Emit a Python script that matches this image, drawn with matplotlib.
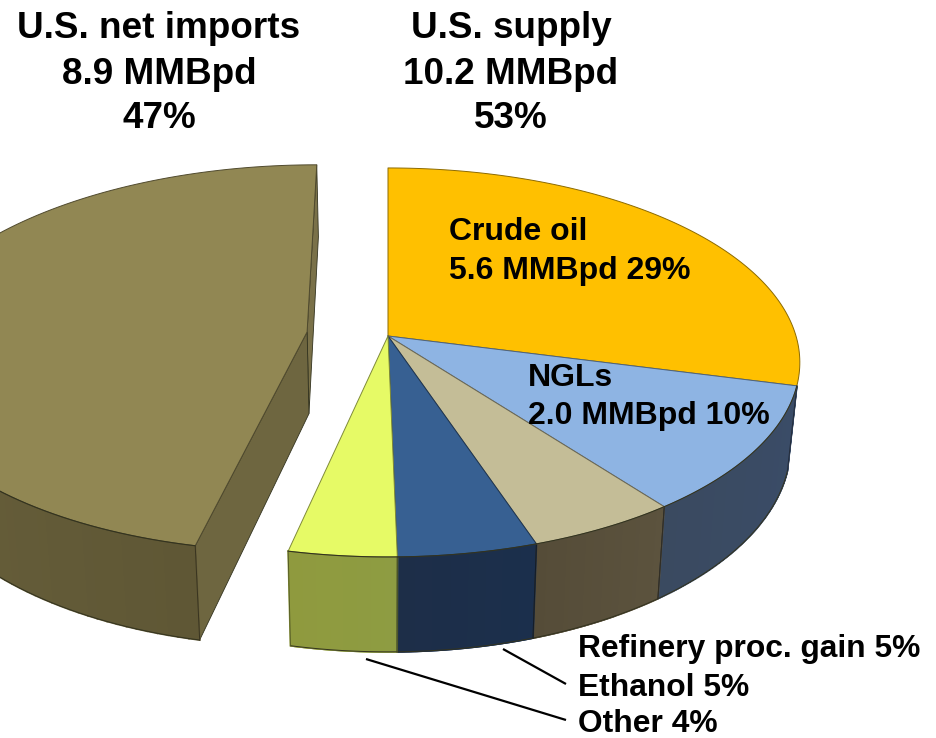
import numpy as np
import matplotlib
matplotlib.use("Agg")
import matplotlib.pyplot as plt
from matplotlib.colors import to_rgb

plt.rcParams['font.family'] = ['Liberation Sans', 'DejaVu Sans']

# Data (MMBpd)
categories = ["Crude oil", "NGLs", "Refinery proc. gain", "Ethanol", "Other", "U.S. net imports"]
values = [5.55, 2.03, 0.99, 0.92, 0.71, 8.9]
top_colors = ["#FFC000", "#8EB4E3", "#C4BD97", "#376092", "#E6FA66", "#918753"]
wall_start = ["#A08000", "#3A4C68", "#5C533E", "#1B2F4C", "#8E9C42", "#7C7348"]
wall_end = ["#A08000", "#3A4A60", "#554C38", "#1D2E48", "#8F9A3E", "#5F5735"]
cut_color = "#6E6640"
edge_color = "#33331F"

title_lines = [
    (159, ["U.S. net imports", "8.9 MMBpd", "47%"]),
    (511, ["U.S. supply", "10.2 MMBpd", "53%"]),
]
title_ys = [38.5, 84.5, 128]
inner_labels = [
    (449, 240.5, "Crude oil"),
    (449, 279, "5.6 MMBpd 29%"),
    (528, 386, "NGLs"),
    (528, 424, "2.0 MMBpd 10%"),
]
side_labels = [
    (578, 657, "Refinery proc. gain 5%"),
    (578, 696, "Ethanol 5%"),
    (578, 732, "Other 4%"),
]
leaders = [((503, 649), (566, 684)), ((366, 659), (566, 720))]

# Perspective view of the pie disk
CX, CY = 388.0, 336.0
A, H, K = 408.0, 190.9, 0.136
DEPTH, SHRINK = 82.0, 0.977
EXPLODE = 0.2


def project(u, v, bottom=False):
    u, v = np.asarray(u, float), np.asarray(v, float)
    den = 1 + K * v
    x = CX + A * u / den
    y = CY - H * v / den
    if bottom:
        x = CX + (x - CX) * SHRINK
        y = y + DEPTH / den
    return x, y


def darker(color, f=0.55):
    return tuple(c * f for c in to_rgb(color))


fig = plt.figure(figsize=(9.36, 7.38), dpi=100)
ax = fig.add_axes([0, 0, 1, 1])
ax.set_xlim(0, 936)
ax.set_ylim(738, 0)
ax.axis("off")

fractions = np.array(values) / sum(values)
edges = np.concatenate([[0], np.cumsum(fractions)]) * 2 * np.pi

slices = []
for i, name in enumerate(categories):
    t0, t1 = edges[i], edges[i + 1]
    mid = (t0 + t1) / 2
    d = EXPLODE if i == 5 else 0.0
    slices.append((i, t0, t1, d * np.sin(mid), d * np.cos(mid)))


def rim(t0, t1, du, dv, n=120):
    t = np.linspace(t0, t1, n)
    return np.sin(t) + du, np.cos(t) + dv, t


# Walls: cut faces of the exploded slice, then the outer rim
for i, t0, t1, du, dv in slices:
    if i != 5:
        continue
    ax_x, ax_y = project(du, dv)
    bx_x, bx_y = project(du, dv, True)
    for t, col in ((t1, "#7A7149"), (t0, cut_color)):
        p = project(np.sin(t) + du, np.cos(t) + dv)
        q = project(np.sin(t) + du, np.cos(t) + dv, True)
        ax.fill([ax_x, p[0], q[0], bx_x], [ax_y, p[1], q[1], bx_y],
                facecolor=col, edgecolor=edge_color, lw=0.6, zorder=2)

for i, t0, t1, du, dv in slices:
    if i == 0:
        continue  # the crude oil wall is hidden behind its own top face
    u, v, t = rim(t0, t1, du, dv)
    visible = v - dv < 0.3
    c0, c1 = np.array(to_rgb(wall_start[i])), np.array(to_rgb(wall_end[i]))
    xt, yt = project(u, v)
    xb, yb = project(u, v, True)
    idx = np.where(visible[:-1] & visible[1:])[0]
    for j in idx:
        s = j / (len(t) - 1)
        if i == 5:
            s = 1 - s
        col = c0 + (c1 - c0) * s
        ax.fill([xt[j], xt[j + 1], xb[j + 1], xb[j]],
                [yt[j], yt[j + 1], yb[j + 1], yb[j]],
                facecolor=col, edgecolor=col, lw=1.3, zorder=3)
    if len(idx):
        a, b = idx[0], idx[-1] + 2
        ax.plot(xb[a:b], yb[a:b], color=edge_color, lw=0.7, zorder=4)
        for k in (a, b - 1):
            ax.plot([xt[k], xb[k]], [yt[k], yb[k]], color=darker(wall_end[i], 0.6), lw=0.7, zorder=4)

# Top faces
for i, t0, t1, du, dv in slices:
    u, v, t = rim(t0, t1, du, dv)
    x, y = project(np.r_[du, u], np.r_[dv, v])
    ax.fill(x, y, facecolor=top_colors[i], edgecolor=darker(top_colors[i]), lw=0.7, zorder=5, joinstyle="round")
# Dark line where the top meets the front wall
for i, t0, t1, du, dv in slices:
    if i == 0:
        continue
    u, v, t = rim(t0, t1, du, dv)
    keep = v - dv < 0.3
    x, y = project(u[keep], v[keep])
    ax.plot(x, y, color=edge_color, lw=0.8, zorder=6)

# Text
for x, lines in title_lines:
    for y, s in zip(title_ys, lines):
        ax.text(x, y, s, ha="center", va="baseline", fontsize=26.6, fontweight="bold", color="black", zorder=8)
for x, y, s in inner_labels:
    ax.text(x, y, s, ha="left", va="baseline", fontsize=23, fontweight="bold", color="black", zorder=8)
for x, y, s in side_labels:
    ax.text(x, y, s, ha="left", va="baseline", fontsize=22.85, fontweight="bold", color="black", zorder=8)
for (x0, y0), (x1, y1) in leaders:
    ax.plot([x0, x1], [y0, y1], color="black", lw=1.6, zorder=7, solid_capstyle="butt")

fig.savefig("out.png", dpi=100)
